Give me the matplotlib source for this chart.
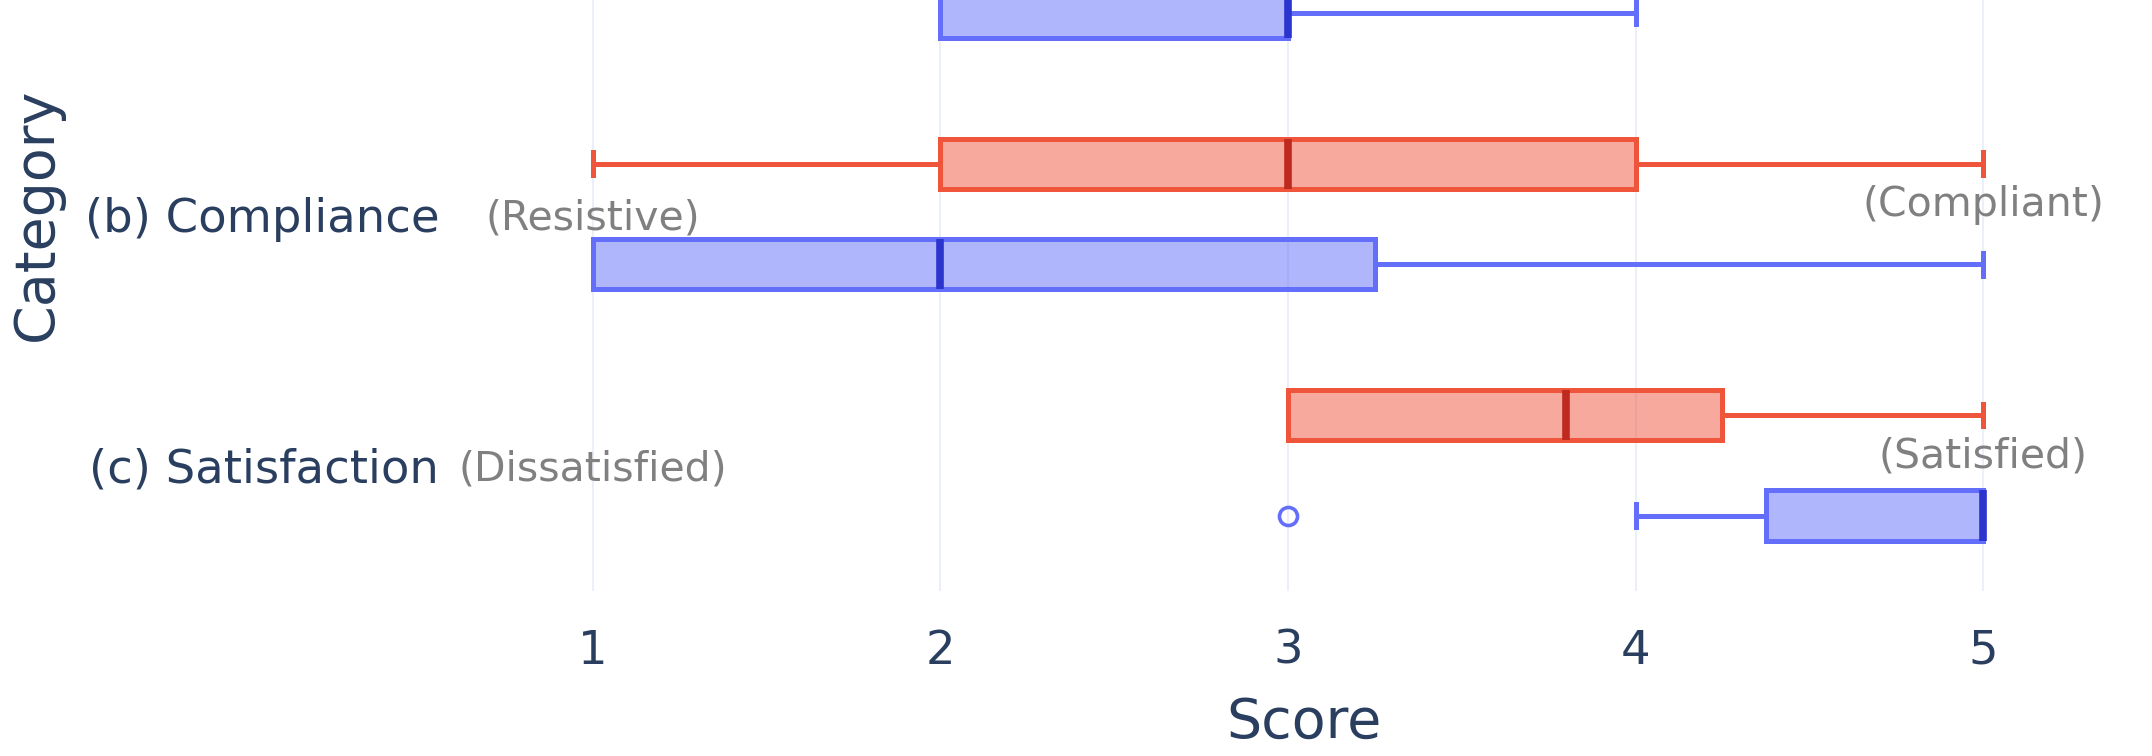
import numpy as np
import matplotlib
matplotlib.use('Agg')
import matplotlib.pyplot as plt
from matplotlib.colors import to_rgb

# categories (top one is cut off in the reference)
categories = ['(a) Engagement', '(b) Compliance', '(c) Satisfaction']
x_ticks = [1, 2, 3, 4, 5]

# red group box stats
red_q1 = [3, 2, 3]
red_med = [4, 3, 3.8]
red_q3 = [4, 4, 4.25]
red_lo = [2, 1, 3]
red_hi = [5, 5, 5]
red_fliers = [[], [], []]

# blue group box stats
blue_q1 = [2, 1, 4.375]
blue_med = [3, 2, 5]
blue_q3 = [3, 3.25, 5]
blue_lo = [2, 1, 4]
blue_hi = [4, 5, 5]
blue_fliers = [[], [], [3]]

# scale end labels
left_notes = ['', '(Resistive)', '(Dissatisfied)']
right_notes = ['', '(Compliant)', '(Satisfied)']

TEXT = '#2a3f5f'
RED, RED_MED = '#EF553B', '#BE2A20'
BLUE, BLUE_MED = '#636EFA', '#2C34CE'

W, H = 2152, 756
fig = plt.figure(figsize=(W / 100, H / 100), dpi=100)
ax = fig.add_axes([460 / W, 165 / H, (2148 - 460) / W, 754 / H])
ax.set_xlim(0.6173, 5.4748)
ax.set_ylim(2.5, -0.5)


def draw_group(q1, med, q3, lo, hi, fliers, offset, color, med_color):
    stats = []
    for i in range(len(categories)):
        stats.append(dict(q1=q1[i], med=med[i], q3=q3[i],
                          whislo=lo[i], whishi=hi[i], fliers=fliers[i]))
    ax.bxp(stats, positions=np.arange(len(categories)) + offset,
           widths=0.2, capwidths=0.09, orientation='horizontal',
           patch_artist=True, showfliers=True,
           boxprops=dict(facecolor=(*to_rgb(color), 0.5), edgecolor=color, linewidth=3.6),
           whiskerprops=dict(color=color, linewidth=3.6),
           capprops=dict(color=color, linewidth=3.6),
           medianprops=dict(color=med_color, linewidth=5.5, solid_capstyle='butt'),
           flierprops=dict(marker='o', markerfacecolor='none', markeredgecolor=color,
                           markersize=13, markeredgewidth=2.6))


draw_group(red_q1, red_med, red_q3, red_lo, red_hi, red_fliers, -0.2, RED, RED_MED)
draw_group(blue_q1, blue_med, blue_q3, blue_lo, blue_hi, blue_fliers, 0.2, BLUE, BLUE_MED)

# axes styling
for s in ax.spines.values():
    s.set_visible(False)
ax.set_axisbelow(True)
ax.grid(True, axis='x', color='#EBF0F8', linewidth=1.5)
ax.grid(False, axis='y')
ax.set_xticks(x_ticks)
ax.set_xticklabels([str(t) for t in x_ticks])
ax.set_yticks(range(len(categories)))
ax.set_yticklabels(categories)
ax.tick_params(axis='x', length=0, pad=27, labelsize=33.5, labelcolor=TEXT)
ax.tick_params(axis='y', length=0, pad=15, labelsize=33.5, labelcolor=TEXT)
# the first category sits above the visible area
ax.get_yticklabels()[0].set_visible(False)

ax.set_xlabel('Score', fontsize=40, color=TEXT)
ax.xaxis.label.set_verticalalignment('center')
ax.xaxis.set_label_coords(0.5, -132 / 754)
ax.set_ylabel('Category', fontsize=40, color=TEXT)
ax.yaxis.label.set_verticalalignment('center')
ax.yaxis.set_label_coords((37 - 460) / (2148 - 460), 0.5)

# end-of-scale notes
for i in range(len(categories)):
    if left_notes[i]:
        ax.text(1, i + 0.016, left_notes[i], ha='center', va='center', fontsize=29.5, color='gray')
    if right_notes[i]:
        ax.text(5, i - 0.034, right_notes[i], ha='center', va='center', fontsize=29.5, color='gray')

fig.savefig('out.png', dpi=100)
